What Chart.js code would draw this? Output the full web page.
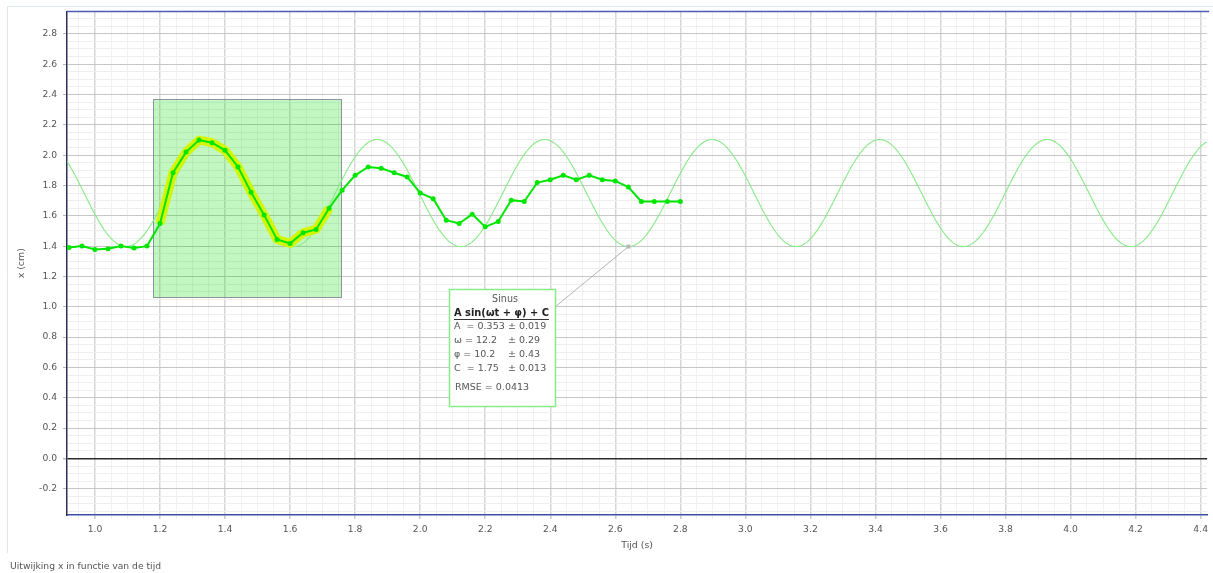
<!DOCTYPE html>
<html>
<head>
<meta charset="utf-8">
<title>Uitwijking x in functie van de tijd</title>
<script src="https://cdn.jsdelivr.net/npm/chart.js@4/dist/chart.umd.min.js"></script>
<style>
  html, body { margin: 0; padding: 0; background: #fff; overflow: hidden; }
  #wrap { position: relative; width: 1213px; height: 573px; }
</style>
</head>
<body>
<div id="wrap"><canvas id="chart" width="1213" height="573"></canvas></div>
<script>
// Measured displacement (cm) against time (s)
const times = [0.92, 0.96, 1.00, 1.04, 1.08, 1.12, 1.16, 1.20, 1.24, 1.28, 1.32, 1.36,
  1.40, 1.44, 1.48, 1.52, 1.56, 1.60, 1.64, 1.68, 1.72, 1.76, 1.80, 1.84,
  1.88, 1.92, 1.96, 2.00, 2.04, 2.08, 2.12, 2.16, 2.20, 2.24, 2.28, 2.32,
  2.36, 2.40, 2.44, 2.48, 2.52, 2.56, 2.60, 2.64, 2.68, 2.72, 2.76, 2.80];
const positions = [1.391, 1.400, 1.378, 1.383, 1.400, 1.387, 1.400, 1.549, 1.884, 2.020, 2.099, 2.082,
  2.032, 1.922, 1.755, 1.606, 1.444, 1.418, 1.488, 1.510, 1.650, 1.769, 1.867, 1.922,
  1.913, 1.884, 1.856, 1.751, 1.713, 1.571, 1.549, 1.611, 1.527, 1.562, 1.703, 1.694,
  1.819, 1.838, 1.867, 1.838, 1.867, 1.838, 1.830, 1.790, 1.694, 1.694, 1.694, 1.694];

// Time window used for the fit, and its vertical extent (cm)
const selectionTime = [1.179, 1.756];
const selectionX = [1.067, 2.373];

// Fitted model  x(t) = A sin(ωt + φ) + C
const fitNames = ['A', 'ω', 'φ', 'C'];
const fitValues = [0.353, 12.2, 10.2, 1.75];
const fitErrors = [0.019, 0.29, 0.43, 0.013];
const fitRmse = 0.0413;

// Axis ranges and labelled ticks
const xRange = [0.914, 4.42];
const yRange = [-0.373, 2.947];
const xTickLabels = [1.0, 1.2, 1.4, 1.6, 1.8, 2.0, 2.2, 2.4, 2.6, 2.8, 3.0, 3.2, 3.4, 3.6, 3.8, 4.0, 4.2, 4.4];
const yTickLabels = [-0.2, 0.0, 0.2, 0.4, 0.6, 0.8, 1.0, 1.2, 1.4, 1.6, 1.8, 2.0, 2.2, 2.4, 2.6, 2.8];
const minorStep = 0.05;

const FONT = 'DejaVu Sans';
const TEXT = '#555';

const [A, OMEGA, PHI, C] = fitValues;
const model = t => A * Math.sin(OMEGA * t + PHI) + C;

const measured = times.map((t, i) => ({ x: t, y: positions[i] }));
const selected = measured.filter(p => p.x >= selectionTime[0] && p.x <= selectionTime[1]);

const fitCurve = [];
for (let t = xRange[0]; t <= xRange[1] + 1e-9; t += 0.004) fitCurve.push({ x: t, y: model(t) });

// ticks every minorStep; the labelled ones are flagged as major
function buildTicks(scale, labelled) {
  const ticks = [];
  const start = Math.ceil(scale.min / minorStep - 1e-9);
  const end = Math.floor(scale.max / minorStep + 1e-9);
  for (let k = start; k <= end; k++) {
    const v = Math.round(k * minorStep * 1000) / 1000;
    ticks.push({ value: v, major: labelled.some(m => Math.abs(m - v) < 1e-6) });
  }
  scale.ticks = ticks;
}

const isMajor = ctx => !!(ctx.tick && ctx.tick.major);
const isZero = ctx => !!(ctx.tick && Math.abs(ctx.tick.value) < 1e-6);

// shaded fit window
const selectionPlugin = {
  id: 'selectionBox',
  beforeDatasetsDraw(chart) {
    const { ctx, scales: { x, y } } = chart;
    const l = Math.round(x.getPixelForValue(selectionTime[0])) + 0.5;
    const r = Math.round(x.getPixelForValue(selectionTime[1])) + 0.5;
    const t = Math.round(y.getPixelForValue(selectionX[1])) + 0.5;
    const b = Math.round(y.getPixelForValue(selectionX[0])) + 0.5;
    ctx.save();
    ctx.fillStyle = 'rgba(0, 220, 0, 0.24)';
    ctx.fillRect(l, t, r - l, b - t);
    ctx.strokeStyle = '#8d93a3';
    ctx.lineWidth = 1;
    ctx.strokeRect(l, t, r - l, b - t);
    ctx.restore();
  }
};

// fit summary box with a leader line to the curve
const fitLabelPlugin = {
  id: 'fitLabel',
  afterDatasetsDraw(chart) {
    const { ctx, scales: { x, y } } = chart;
    const box = { l: 449, t: 289, r: 555, b: 406 };
    // leader to a trough of the fitted curve
    const tTrough = (1.5 * Math.PI + 2 * Math.PI * 6 - PHI) / OMEGA;
    const px = x.getPixelForValue(tTrough), py = y.getPixelForValue(model(tTrough));
    ctx.save();
    ctx.strokeStyle = '#b4b4b4';
    ctx.lineWidth = 1;
    ctx.beginPath();
    ctx.moveTo(box.r, box.t + 18);
    ctx.lineTo(px, py);
    ctx.stroke();
    ctx.fillStyle = '#b8b8b8';
    ctx.fillRect(px - 2, py - 2, 4, 4);

    ctx.fillStyle = '#fff';
    ctx.fillRect(box.l, box.t, box.r - box.l, box.b - box.t);
    ctx.strokeStyle = '#86ec86';
    ctx.lineWidth = 1.5;
    ctx.strokeRect(box.l + 0.5, box.t + 0.5, box.r - box.l, box.b - box.t);

    ctx.textBaseline = 'middle';
    ctx.fillStyle = TEXT;
    ctx.font = '9.6px ' + FONT;
    ctx.textAlign = 'center';
    ctx.fillText('Sinus', 505, 299);

    ctx.textAlign = 'left';
    ctx.font = 'bold 9.9px ' + FONT;
    ctx.fillStyle = '#222';
    const formula = 'A sin(ωt + φ) + C';
    ctx.fillText(formula, 454, 313);
    const w = ctx.measureText(formula).width;
    ctx.strokeStyle = '#333';
    ctx.lineWidth = 1;
    ctx.beginPath();
    ctx.moveTo(454, 319.5);
    ctx.lineTo(454 + w, 319.5);
    ctx.stroke();

    ctx.font = '9.5px ' + FONT;
    ctx.fillStyle = TEXT;
    const rowsY = [327, 341, 355, 369];
    const shown = ['0.353', '12.2', '10.2', '1.75'];
    fitNames.forEach((n, i) => {
      const pad = (n === 'A' || n === 'C') ? '  ' : ' ';
      ctx.fillText(n + pad + '= ' + shown[i], 454, rowsY[i]);
      ctx.fillText('± ' + fitErrors[i], 508, rowsY[i]);
    });
    ctx.fillText('RMSE = ' + fitRmse, 455, 388);
    ctx.restore();
  }
};

// panel frame, top border and caption
const framePlugin = {
  id: 'frame',
  afterDraw(chart) {
    const { ctx, chartArea: a } = chart;
    ctx.save();
    ctx.strokeStyle = '#dfe5f1';
    ctx.lineWidth = 1;
    ctx.beginPath();
    ctx.moveTo(7.5, 553);
    ctx.lineTo(7.5, 6.5);
    ctx.lineTo(1213, 6.5);
    ctx.stroke();
    ctx.strokeStyle = '#4d5db2';
    ctx.lineWidth = 1.5;
    ctx.beginPath();
    ctx.moveTo(a.left, a.top);
    ctx.lineTo(a.right + 2, a.top);
    ctx.stroke();
    ctx.fillStyle = TEXT;
    ctx.font = '9.2px ' + FONT;
    ctx.textBaseline = 'middle';
    ctx.textAlign = 'left';
    ctx.fillText('Uitwijking x in functie van de tijd', 10, 567);
    ctx.restore();
  }
};

new Chart(document.getElementById('chart'), {
  type: 'line',
  data: {
    datasets: [
      {
        label: 'x',
        data: measured,
        borderColor: '#00e600',
        backgroundColor: '#00e600',
        borderWidth: 2,
        pointRadius: 2.5,
        pointBorderWidth: 0,
        tension: 0,
        order: 0
      },
      {
        label: 'selectie',
        data: selected,
        borderColor: 'rgba(212, 245, 0, 0.95)',
        borderWidth: 9,
        borderJoinStyle: 'round',
        borderCapStyle: 'butt',
        pointRadius: 0,
        tension: 0,
        order: 1
      },
      {
        label: 'Sinus',
        data: fitCurve,
        borderColor: '#86ea86',
        borderWidth: 1.1,
        pointRadius: 0,
        tension: 0,
        order: 2
      }
    ]
  },
  options: {
    responsive: false,
    animation: false,
    devicePixelRatio: 1,
    parsing: false,
    layout: { padding: { top: 10, right: 2, left: 0, bottom: 0 } },
    plugins: { legend: { display: false }, tooltip: { enabled: false }, title: { display: false } },
    scales: {
      x: {
        type: 'linear',
        min: xRange[0],
        max: xRange[1],
        afterBuildTicks: s => buildTicks(s, xTickLabels),
        afterFit: s => { s.height = 58; },
        grid: {
          color: ctx => isMajor(ctx) ? '#d6d6d6' : '#f0f0f0',
          lineWidth: ctx => isMajor(ctx) ? 1.5 : 1,
          tickColor: ctx => isMajor(ctx) ? '#c8c8c8' : '#e8e8e8',
          tickLength: 4
        },
        border: { color: '#3f4fa6', width: 1.5 },
        ticks: {
          autoSkip: false,
          maxRotation: 0,
          padding: 5,
          color: TEXT,
          font: { family: FONT, size: 9.2 },
          callback: (v, i, ticks) => ticks[i].major ? Number(v).toFixed(1) : ''
        },
        title: {
          display: true,
          text: 'Tijd (s)',
          color: TEXT,
          font: { family: FONT, size: 9.4 },
          padding: { top: 0, bottom: 22 }
        }
      },
      y: {
        type: 'linear',
        min: yRange[0],
        max: yRange[1],
        afterBuildTicks: s => buildTicks(s, yTickLabels),
        afterFit: s => { s.width = 67; },
        grid: {
          color: ctx => isZero(ctx) ? '#2b2b2b' : (isMajor(ctx) ? '#c6c6c6' : '#eeeeee'),
          lineWidth: ctx => isZero(ctx) ? 1.5 : 1,
          tickColor: ctx => isMajor(ctx) ? '#b8b8b8' : 'rgba(0,0,0,0)',
          tickLength: 4
        },
        border: { color: '#2c2f55', width: 1.5 },
        ticks: {
          autoSkip: false,
          padding: 6,
          color: TEXT,
          font: { family: FONT, size: 9.2 },
          callback: (v, i, ticks) => ticks[i].major ? Number(v).toFixed(1) : ''
        },
        title: {
          display: true,
          text: 'x (cm)',
          color: TEXT,
          font: { family: FONT, size: 9.4 },
          padding: { top: 16, bottom: 0 }
        }
      }
    }
  },
  plugins: [selectionPlugin, fitLabelPlugin, framePlugin]
});
</script>
</body>
</html>
